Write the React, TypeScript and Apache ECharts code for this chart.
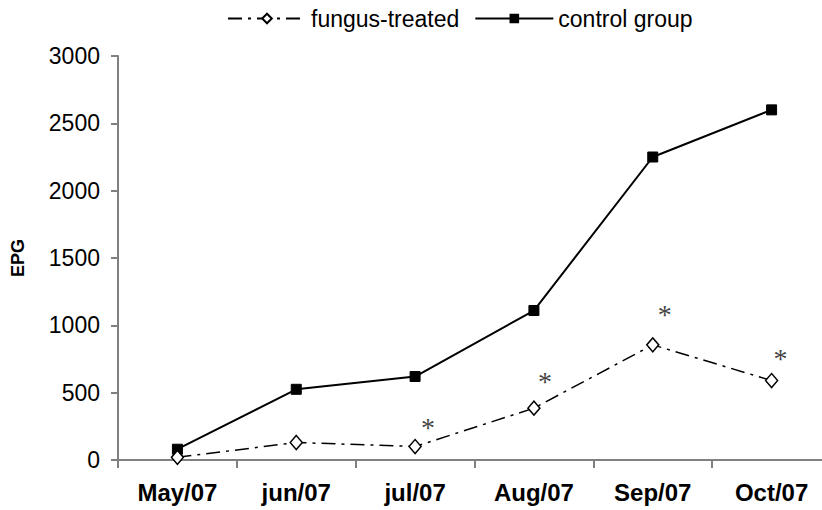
import React, { useEffect, useRef } from "react";
import * as echarts from "echarts";

const categories = ["May/07", "jun/07", "jul/07", "Aug/07", "Sep/07", "Oct/07"];
const fungusTreated = [20, 130, 100, 385, 855, 590];
const controlGroup = [80, 525, 620, 1110, 2250, 2600];
const significant = [false, false, true, true, true, true];
const yTicks = { min: 0, max: 3000, interval: 500 };

// label offsets for the significance asterisks (styling only)
const starOffsets: [number, number][] = [[0, 0], [0, 0], [13, 8], [11, 0], [12, -4], [9, 5]];

export default function App() {
  const ref = useRef<HTMLDivElement>(null);
  useEffect(() => {
    const chart = echarts.init(ref.current!, null, { renderer: "svg" });
    const font = "'Liberation Sans', Arial, sans-serif";
    const fungusData = fungusTreated.map((v, i) =>
      significant[i]
        ? {
            value: v,
            label: {
              show: true,
              formatter: "*",
              position: "top",
              offset: starOffsets[i],
              fontFamily: "'Liberation Serif', 'Times New Roman', serif",
              fontSize: 28,
              color: "#444",
            },
          }
        : v
    );
    chart.setOption({
      animation: false,
      backgroundColor: "#fff",
      textStyle: { fontFamily: font },
      legend: {
        top: 2,
        left: 222,
        itemWidth: 78,
        itemHeight: 12,
        itemGap: 15,
        textStyle: { fontSize: 23, color: "#000", fontFamily: font },
        data: ["fungus-treated", "control group"],
      },
      grid: { left: 118, top: 56, width: 713, height: 404, containLabel: false, outerBoundsMode: "none" },
      xAxis: {
        type: "category",
        data: categories,
        boundaryGap: true,
        axisLine: { show: true, lineStyle: { color: "#808080", width: 2 } },
        axisTick: { show: true, alignWithLabel: false, length: 8, lineStyle: { color: "#808080", width: 2 } },
        axisLabel: { margin: 20, fontSize: 24, fontWeight: "bold", color: "#000", fontFamily: font, interval: 0 },
        splitLine: { show: false },
      },
      yAxis: {
        type: "value",
        min: yTicks.min,
        max: yTicks.max,
        interval: yTicks.interval,
        name: "EPG",
        nameLocation: "middle",
        nameGap: 91,
        nameRotate: 90,
        nameTextStyle: { fontSize: 18, fontWeight: "bold", color: "#000", fontFamily: font },
        axisLine: { show: true, lineStyle: { color: "#808080", width: 2 } },
        axisTick: { show: true, length: 7, lineStyle: { color: "#808080", width: 2 } },
        axisLabel: { margin: 18, fontSize: 23, color: "#000", fontFamily: font, formatter: (v: number) => String(v) },
        splitLine: { show: false },
      },
      series: [
        {
          name: "fungus-treated",
          type: "line",
          data: fungusData,
          symbol: "diamond",
          symbolSize: [12, 14],
          itemStyle: { color: "#fff", borderColor: "#000", borderWidth: 1.5 },
          lineStyle: { color: "#000", width: 1.5, type: [14, 6, 3, 6] },
          z: 3,
        },
        {
          name: "control group",
          type: "line",
          data: controlGroup,
          symbol: "rect",
          symbolSize: 10,
          itemStyle: { color: "#000", borderColor: "#000" },
          lineStyle: { color: "#000", width: 2, type: "solid" },
          z: 2,
        },
      ],
    });
    return () => chart.dispose();
  }, []);
  return <div ref={ref} style={{ position: "fixed", left: 0, top: 0, width: 822, height: 510 }} />;
}
